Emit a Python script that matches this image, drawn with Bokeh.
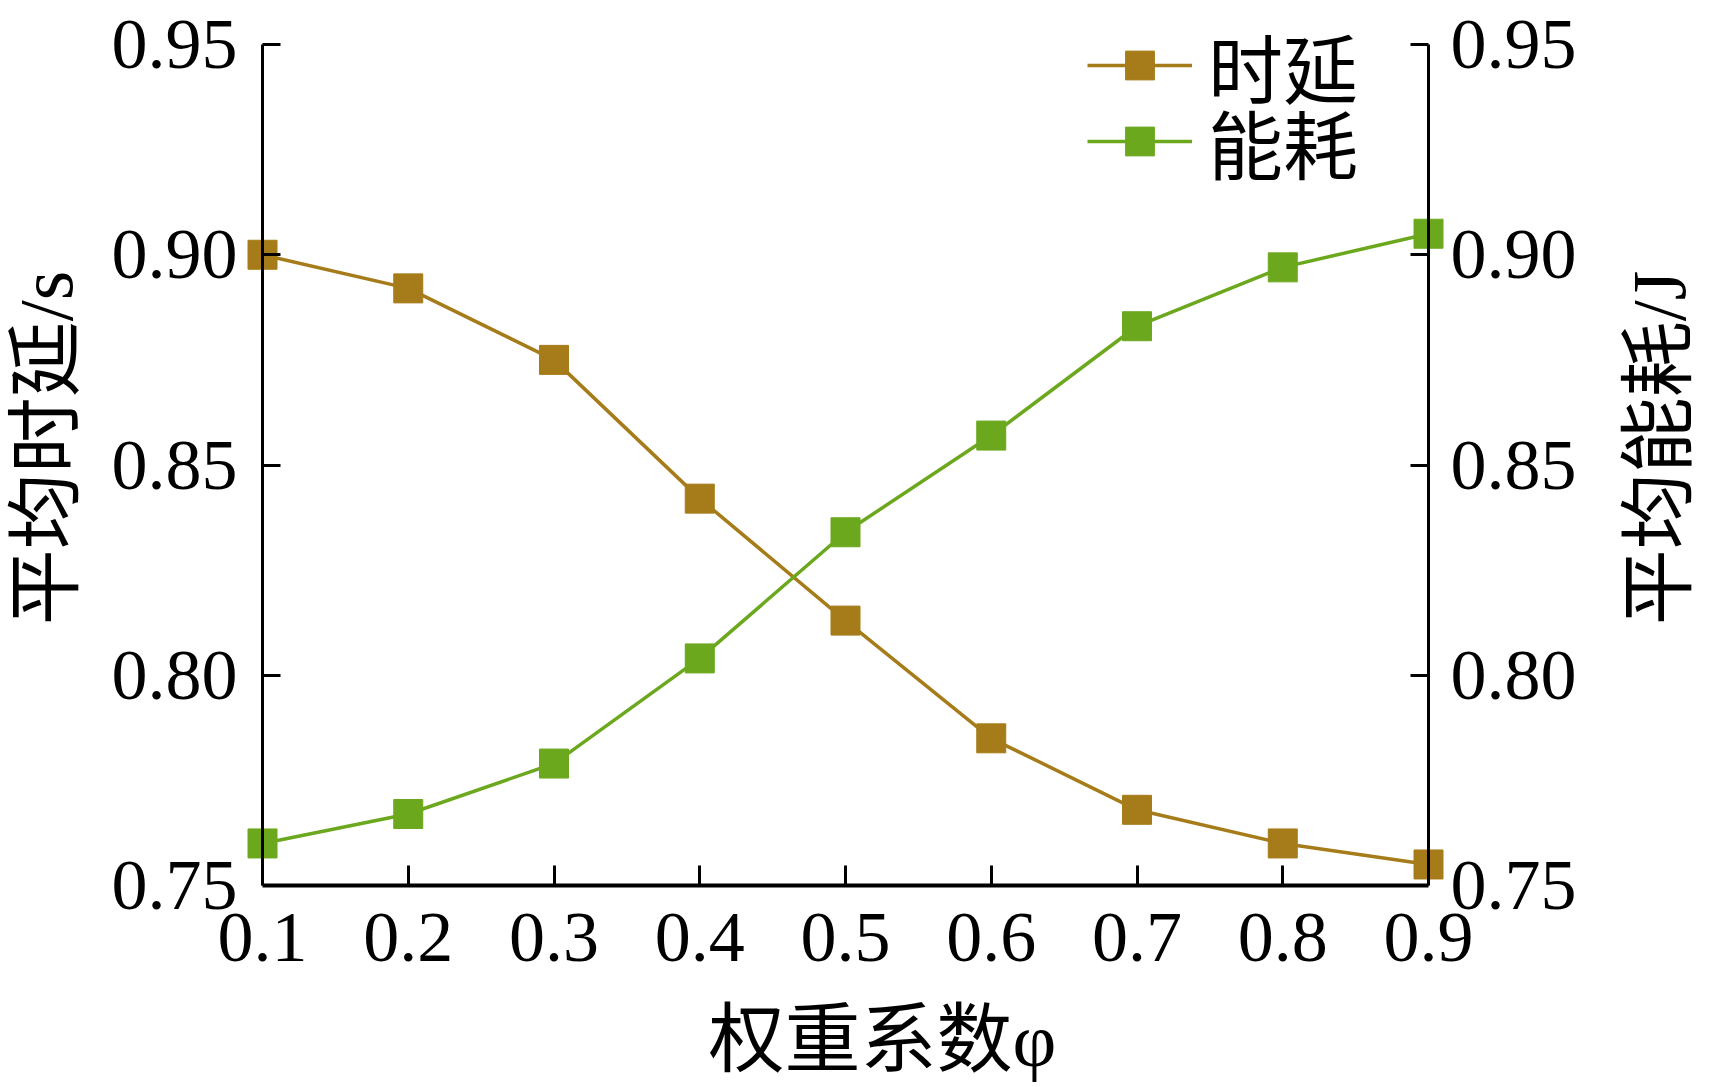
import math
from bokeh.plotting import figure
from bokeh.layouts import row
from bokeh.models import Range1d, LinearAxis, Legend, LegendItem, FixedTicker
from bokeh.embed import file_html
from bokeh.resources import INLINE

# ---- data ----
weights = [0.1, 0.2, 0.3, 0.4, 0.5, 0.6, 0.7, 0.8, 0.9]
delay = [0.900, 0.892, 0.875, 0.842, 0.813, 0.785, 0.768, 0.760, 0.755]
energy = [0.760, 0.767, 0.779, 0.804, 0.834, 0.857, 0.883, 0.897, 0.905]
y_ticks = [0.75, 0.80, 0.85, 0.90, 0.95]
y_tick_labels = {0.75: "0.75", 0.80: "0.80", 0.85: "0.85", 0.90: "0.90", 0.95: "0.95"}
x_tick_labels = {0.1: "0.1", 0.2: "0.2", 0.3: "0.3", 0.4: "0.4", 0.5: "0.5",
                 0.6: "0.6", 0.7: "0.7", 0.8: "0.8", 0.9: "0.9"}
series_names = ["时延", "能耗"]
x_label = "权重系数φ"
y_left_label = "平均时延/s"
y_right_label = "平均能耗/J"

BROWN = "#A67C1A"
GREEN = "#6CA81E"
FONT = "'Liberation Serif', 'Noto Sans CJK SC'"

W, H = 1709, 1087
AX_L, AX_R, TOP, BOT = 262, 1428, 44, 885      # axis pixel positions
XTITLE_C = 882                                  # centre of the x title
X0, X1 = weights[0], weights[-1]
Y0, Y1 = y_ticks[0], y_ticks[-1]
pxx = (AX_R - AX_L) / (X1 - X0)
pxy = (BOT - TOP) / (Y1 - Y0)
PAD_L = 16                                      # room so edge markers are not clipped
FL = AX_L - PAD_L
FR = 2 * XTITLE_C - FL                          # frame centred on the x title
PAD_R = FR - AX_R
TOPF = 10                                       # frame top (legend rises above 0.95)
dy = (TOP - TOPF) / pxy
W1 = 1590                                       # main figure width
W2 = W - W1                                     # strip that carries the right title

p = figure(width=W1, height=H,
           x_range=Range1d(X0 - PAD_L / pxx, X1 + PAD_R / pxx), y_range=Range1d(Y0, Y1 + dy),
           output_backend="svg", toolbar_location=None,
           min_border_left=FL, min_border_right=W1 - FR,
           min_border_top=TOPF, min_border_bottom=H - BOT)
p.extra_y_ranges = {"r": Range1d(Y0, Y1 + dy)}
p.outline_line_color = None
p.xgrid.visible = False
p.ygrid.visible = False
p.background_fill_color = "white"
p.border_fill_color = "white"


def style_axis(ax, tick_in, standoff, lw=3):
    ax.axis_line_color = "black"
    ax.axis_line_width = lw
    ax.major_tick_line_color = "black"
    ax.major_tick_line_width = 3
    ax.major_tick_in = tick_in
    ax.major_tick_out = 0
    ax.minor_tick_line_color = None
    ax.major_label_text_font = FONT
    ax.major_label_text_font_size = "72px"
    ax.major_label_text_color = "black"
    ax.major_label_standoff = standoff


def style_title(ax, text, standoff):
    ax.axis_label = text
    ax.axis_label_standoff = standoff
    ax.axis_label_text_font = FONT
    ax.axis_label_text_font_size = "76px"
    ax.axis_label_text_font_style = "normal"
    ax.axis_label_text_color = "black"


blank = {t: "" for t in y_ticks}

# bottom axis with title
xa = p.xaxis[0]
xa.ticker = FixedTicker(ticks=weights)
xa.major_label_overrides = x_tick_labels
xa.bounds = (X0, X1)
style_axis(xa, 20, 28, lw=4)
style_title(xa, x_label, 34)

# left: labels + title at frame edge, line+ticks at x = 0.1
ya = p.yaxis[0]
ya.ticker = FixedTicker(ticks=y_ticks)
ya.major_label_overrides = y_tick_labels
style_axis(ya, 0, 9)
ya.axis_line_color = None
ya.major_tick_line_color = None
style_title(ya, y_left_label, 21)

ya_line = LinearAxis(ticker=FixedTicker(ticks=y_ticks), fixed_location=X0, bounds=(Y0, Y1),
                     major_label_overrides=blank)
style_axis(ya_line, 18, 0)
p.add_layout(ya_line, "left")

# right: labels beside x = 0.9 (frame edge lies further right), line+ticks at x = 0.9
yr = LinearAxis(y_range_name="r", ticker=FixedTicker(ticks=y_ticks),
                major_label_overrides=y_tick_labels)
style_axis(yr, 0, 22 - PAD_R)
yr.axis_line_color = None
yr.major_tick_line_color = None
p.add_layout(yr, "right")

yr_line = LinearAxis(y_range_name="r", ticker=FixedTicker(ticks=y_ticks),
                     fixed_location=X1, bounds=(Y0, Y1), major_label_overrides=blank)
style_axis(yr_line, 18, 0)
p.add_layout(yr_line, "right")

# data
l1 = p.line(weights, delay, line_color=BROWN, line_width=3.5)
s1 = p.scatter(weights, delay, marker="square", size=29, fill_color=BROWN, line_color=BROWN)
l2 = p.line(weights, energy, line_color=GREEN, line_width=3.5, y_range_name="r")
s2 = p.scatter(weights, energy, marker="square", size=29, fill_color=GREEN, line_color=GREEN,
               y_range_name="r")

# legend: one row each, placed by its bottom-left corner (px from frame bottom-left)
ITEM_H = 97
rows = [(series_names[0], [l1, s1], 71), (series_names[1], [l2, s2], 147)]
for name, rends, cy in rows:
    lg = Legend(items=[LegendItem(label=name, renderers=rends)],
                location=(1087 - FL, BOT - cy - ITEM_H / 2), padding=0, margin=0, spacing=0,
                glyph_width=105, glyph_height=72, label_standoff=16,
                label_text_font=FONT, label_text_font_size="75px", label_text_color="black",
                border_line_color=None, background_fill_alpha=0)
    p.add_layout(lg)

# right title strip: its left-axis label reads bottom-to-top like the reference
p2 = figure(width=W2, height=H, x_range=Range1d(0, 1), y_range=Range1d(0, 1),
            output_backend="svg", toolbar_location=None,
            min_border_left=W2 - 4, min_border_right=0,
            min_border_top=TOPF, min_border_bottom=H - BOT)
p2.outline_line_color = None
p2.xgrid.visible = False
p2.ygrid.visible = False
p2.xaxis.visible = False
p2.border_fill_color = "white"
ta = p2.yaxis[0]
ta.ticker = FixedTicker(ticks=[])
ta.axis_line_color = None
ta.major_tick_line_color = None
ta.minor_tick_line_color = None
ta.major_label_standoff = 0
ta.major_tick_in = 0
ta.major_tick_out = 0
style_title(ta, y_right_label, 5)

layout = row(p, p2)
open("out.html", "w").write(file_html(layout, INLINE))
